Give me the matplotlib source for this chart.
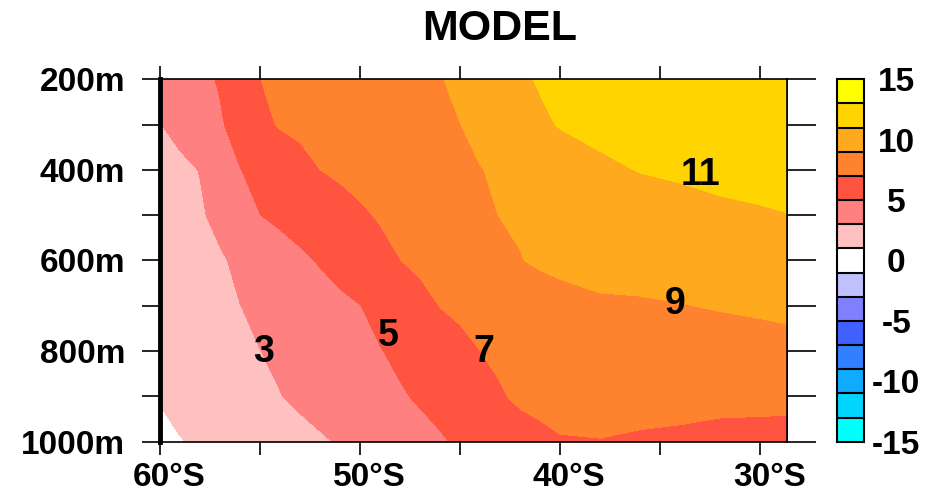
import numpy as np
import matplotlib
matplotlib.use('Agg')
import matplotlib.pyplot as plt
import matplotlib.transforms as mtransforms

plt.rcParams['font.family'] = ['Liberation Sans', 'DejaVu Sans']
plt.rcParams['font.weight'] = 'bold'
plt.rcParams['axes.unicode_minus'] = False

# ---- grid (latitude, depth) ----
LATS = [-60, -59, -58, -57, -56, -55, -54, -53, -52, -51, -50, -49, -48, -47,
        -46, -45, -44, -43, -42, -41, -40, -38, -36, -34, -32, -30, -28]
DEPTHS = [200, 300, 400, 500, 600, 700, 800, 900, 1000]

# values per depth level
T200 = [3.6, 4.09, 4.58, 5.14, 6.07, 6.99, 7.21, 7.43, 7.64, 7.86, 8.07, 8.28, 8.5, 8.71,
        8.93, 9.3, 9.77, 10.23, 10.7, 11.15, 11.6, 11.8, 11.9, 12.0, 12.1, 12.2, 12.4]
T300 = [2.95, 3.54, 4.17, 4.81, 5.67, 6.62, 7.12, 7.33, 7.54, 7.74, 7.95, 8.15, 8.36, 8.57,
        8.77, 8.98, 9.39, 9.83, 10.26, 10.7, 11.1, 11.4, 11.5, 11.6, 11.8, 11.9, 12.0]
T400 = [2.2, 2.6, 3.05, 4.0, 4.95, 5.48, 5.99, 6.49, 6.99, 7.24, 7.49, 7.73, 7.98, 8.22,
        8.46, 8.71, 8.95, 9.2, 9.48, 9.75, 10.0, 10.72, 11.05, 11.2, 11.4, 11.5, 11.6]
T500 = [2.0, 2.4, 2.8, 3.46, 4.22, 4.98, 5.35, 5.71, 6.07, 6.43, 6.78, 7.13, 7.44, 7.76,
        8.08, 8.4, 8.71, 9.03, 9.15, 9.5, 10.0, 10.2, 10.3, 10.5, 10.7, 10.85, 11.02]
T600 = [1.6, 1.95, 2.35, 2.8, 3.34, 3.79, 4.24, 4.69, 5.13, 5.6, 6.07, 6.53, 6.98, 7.31,
        7.63, 7.94, 8.25, 8.56, 8.95, 9.19, 9.35, 9.5, 9.55, 9.7, 9.9, 10.05, 10.2]
T700 = [1.4, 1.8, 2.2, 2.6, 2.98, 3.33, 3.66, 3.98, 4.31, 4.64, 4.97, 5.47, 5.99, 6.51,
        7.03, 7.3, 7.55, 7.8, 8.05, 8.3, 8.5, 8.8, 8.85, 8.95, 9.1, 9.25, 9.4]
T800 = [1.3, 1.65, 2.0, 2.35, 2.68, 2.98, 3.31, 3.63, 3.96, 4.28, 4.61, 4.93, 5.33, 5.75,
        6.17, 6.58, 6.99, 7.3, 7.6, 7.85, 8.1, 8.2, 8.2, 8.2, 8.3, 8.35, 8.55]
T900 = [1.1, 1.45, 1.8, 2.15, 2.45, 2.7, 2.95, 3.27, 3.58, 3.89, 4.2, 4.52, 4.83, 5.19,
        5.6, 6.02, 6.44, 6.85, 7.27, 7.45, 7.5, 7.6, 7.55, 7.5, 7.45, 7.4, 7.4]
T1000 = [0.6, 0.93, 1.2, 1.47, 1.74, 2.01, 2.28, 2.55, 2.82, 3.12, 3.45, 3.79, 4.13, 4.46,
         4.8, 5.25, 5.65, 6.0, 6.3, 6.6, 6.9, 6.95, 6.8, 6.7, 6.5, 6.5, 6.4]

LEVELS = list(range(-15, 16, 2))
COLORS = ['#00FFFF', '#00D4FF', '#10AAFF', '#3080FF', '#4060FF', '#8080FF', '#C0C0FF',
          '#FFFFFF', '#FFC0C0', '#FF8080', '#FF5540', '#FF822E', '#FFAA1E', '#FFD400',
          '#FFFF00']
CBAR_TICKS = [-15, -10, -5, 0, 5, 10, 15]

X_TICKS = [-60, -50, -40, -30]
X_LABELS = ['60°S', '50°S', '40°S', '30°S']
X_MINOR = [-55, -45, -35]
Y_TICKS = [200, 400, 600, 800, 1000]
Y_LABELS = ['200m', '400m', '600m', '800m', '1000m']
Y_MINOR = [300, 500, 700, 900]

# contour labels
LABEL_TEXT = ['3', '5', '7', '9', '11']
LABEL_LAT = [-54.8, -48.6, -43.8, -34.25, -33.0]
LABEL_DEPTH = [802, 766, 801, 697, 411]

Z = np.array([T200, T300, T400, T500, T600, T700, T800, T900, T1000])

fig = plt.figure(figsize=(9.38, 4.96), dpi=100)
ax = fig.add_axes([0.1706, 0.1095, 0.6681, 0.7306])

cf = ax.contourf(LATS, DEPTHS, Z, levels=LEVELS, colors=COLORS)
ax.set_xlim(-60, -28.67)
ax.set_ylim(1000, 200)

for txt, la, de in zip(LABEL_TEXT, LABEL_LAT, LABEL_DEPTH):
    ax.text(la, de, txt, ha='center', va='center', fontsize=27, fontweight='bold')

# axes ticks
ax.set_xticks(X_TICKS)
ax.set_xticklabels(X_LABELS)
ax.set_xticks(X_MINOR, minor=True)
ax.set_yticks(Y_TICKS)
ax.set_yticklabels(Y_LABELS)
ax.set_yticks(Y_MINOR, minor=True)
ax.tick_params(axis='x', which='both', top=True, bottom=True, direction='out',
               length=9.5, width=1.2, labelsize=24, pad=5)
ax.tick_params(axis='y', which='both', left=True, right=False, direction='out',
               length=13, width=1.2, labelsize=24, pad=12)

# shift x labels a bit to the right like the original
off = mtransforms.ScaledTranslation(9 / 100, 0, fig.dpi_scale_trans)
for lbl in ax.get_xticklabels():
    lbl.set_transform(lbl.get_transform() + off)

sec = ax.secondary_yaxis('right')
sec.set_yticks(Y_TICKS + Y_MINOR)
sec.tick_params(axis='y', direction='out', length=21, width=1.2, labelright=False)
sec.spines['right'].set_linewidth(1.2)

for side in ['top', 'right', 'bottom']:
    ax.spines[side].set_linewidth(1.2)
ax.spines['left'].set_linewidth(3.5)

# colorbar
cax = fig.add_axes([0.8926, 0.1095, 0.0288, 0.7306])
cb = fig.colorbar(cf, cax=cax, drawedges=True, ticks=CBAR_TICKS)
cb.outline.set_linewidth(1.5)
cb.dividers.set_linewidth(1.5)
cax.tick_params(length=0, labelsize=24, pad=23)
for lbl in cax.get_yticklabels():
    lbl.set_horizontalalignment('center')

fig.text(500 / 938, 0.9415, 'MODEL', ha='center', va='center',
         fontsize=31, fontweight='bold')

plt.savefig('out.png', dpi=100)
